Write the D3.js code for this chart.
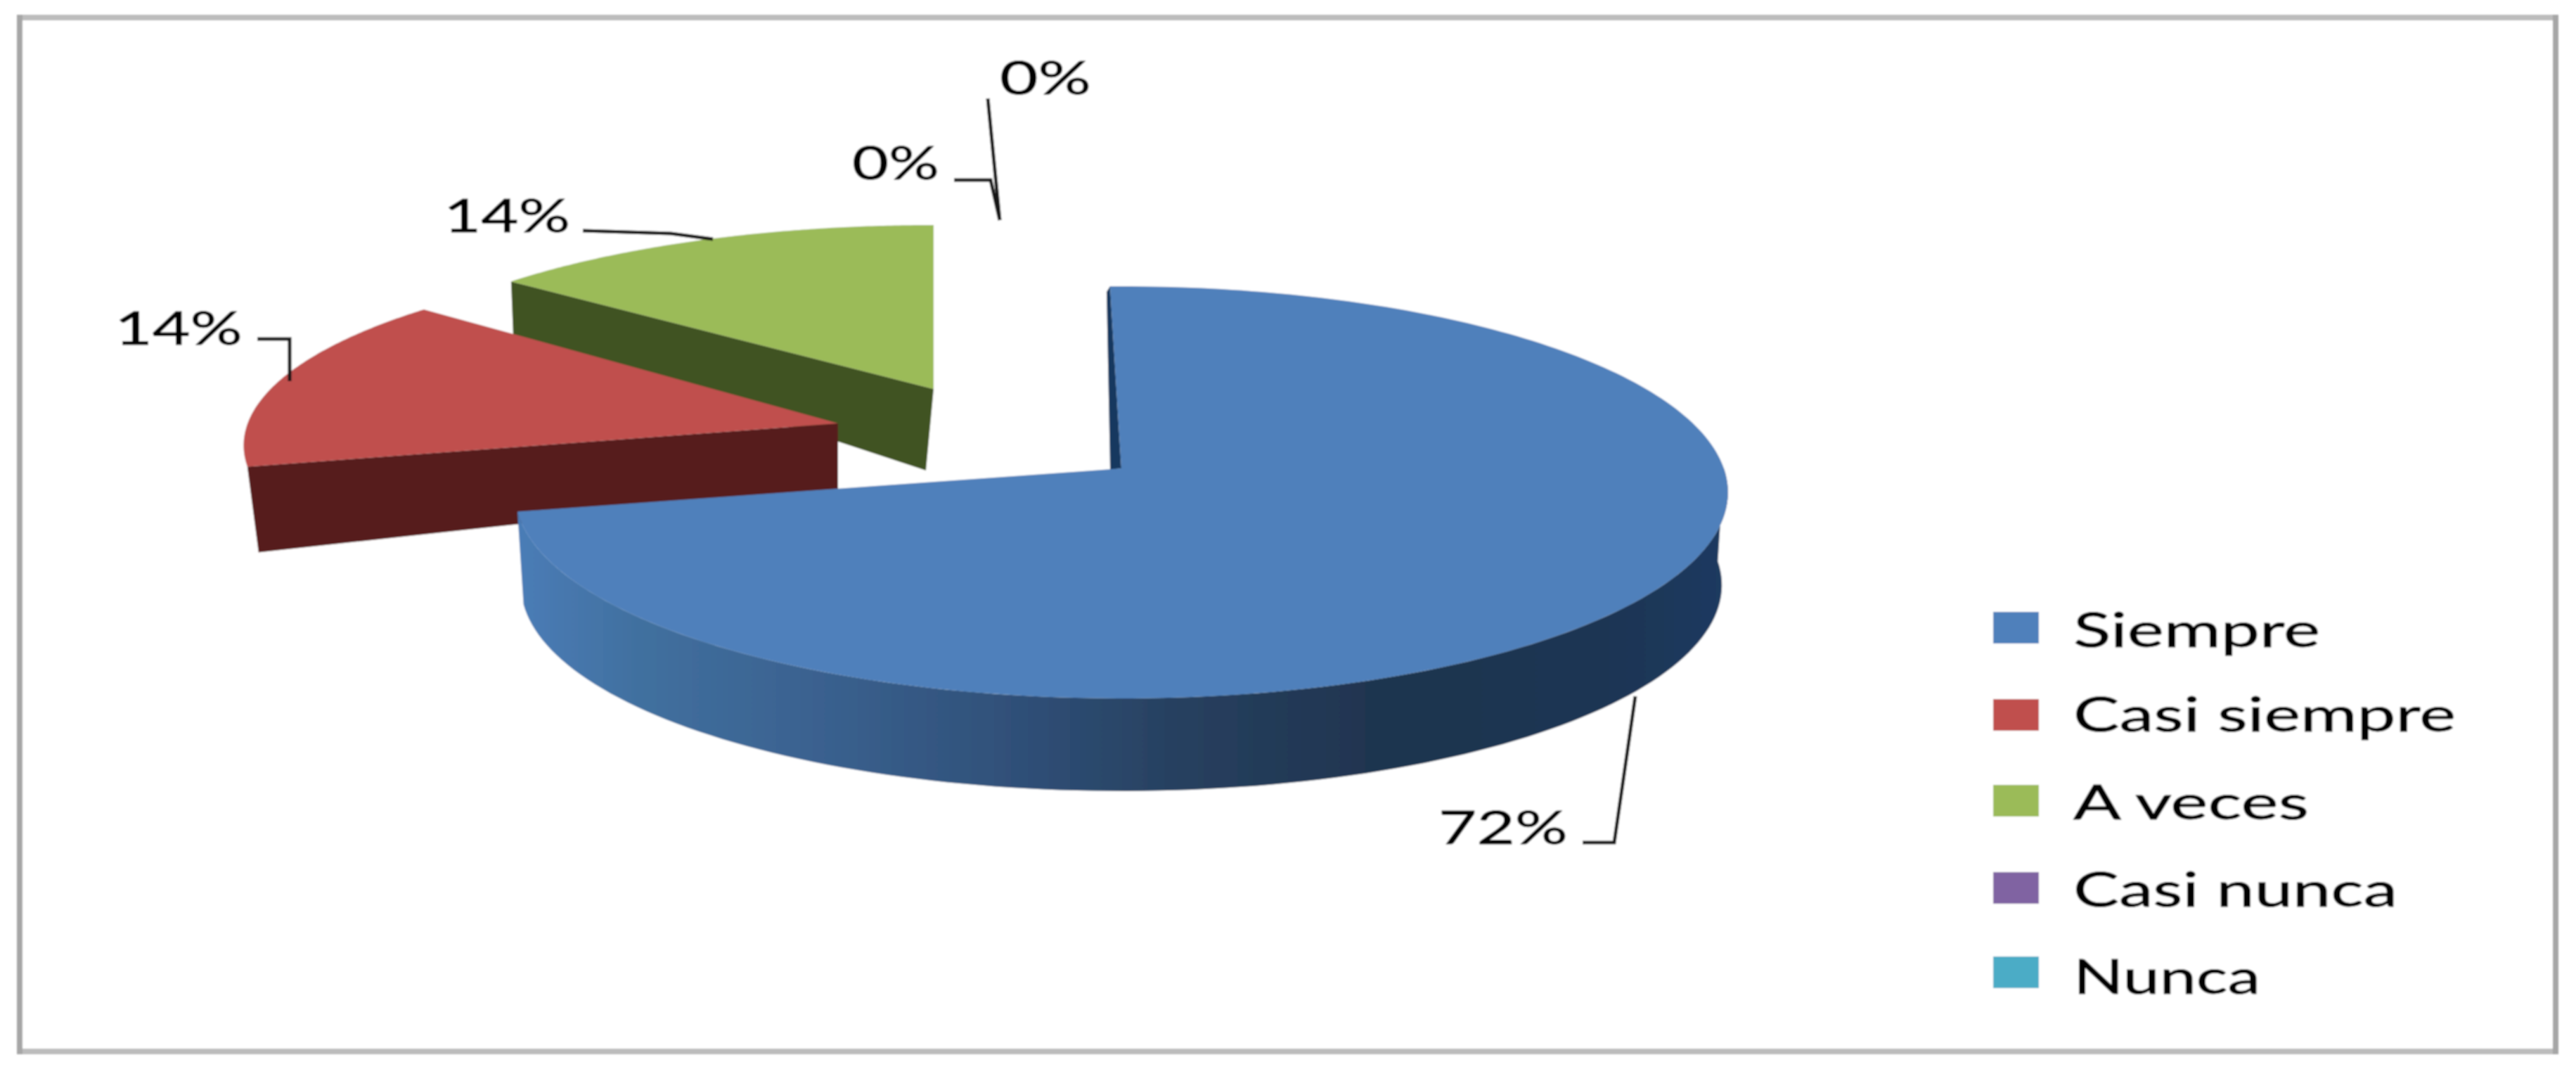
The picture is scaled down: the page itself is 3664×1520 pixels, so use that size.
<!DOCTYPE html>
<html><head><meta charset="utf-8">
<script src="https://cdn.jsdelivr.net/npm/d3@7/dist/d3.min.js"></script>
<style>html,body{margin:0;padding:0;background:#fff}svg{display:block}</style>
</head><body><svg id="c" width="3664" height="1520"></svg>
<script>
// ---- data ----
const categories = ["Siempre","Casi siempre","A veces","Casi nunca","Nunca"];
const values = [72,14,14,0,0];
const valueLabels = ["72%","14%","14%","0%","0%"];
const topColors = ["#4f80bb","#c0504d","#9bbb59","#8064a2","#4bacc6"];
const cutColors = ["#17375e","#561f1c","#3f5221","#403152","#205867"];

// ---- layout (not data) ----
const W=3664,H=1520;
const RX=857,RY=289,P=0.116;
const DEG=Math.PI/180;
const sliceLayout=[
 {ax:1595,ay:666,sx:1,sy:1,apexDepth:0,rimDepth:0,rimShift:0,apexShift:0,startExtra:0,endExtra:0},
 {ax:1192,ay:602,sx:.98,sy:.92,apexDepth:94,rimDepth:122,rimShift:16,apexShift:0,startExtra:-1,endExtra:2.6},
 {ax:1328,ay:553,sx:.97,sy:.9,apexDepth:116,rimDepth:76,rimShift:3,apexShift:-11,startExtra:0.7,endExtra:1.2}
];
const labelLayout=[
 {x:2046,y:1200,w:184,size:66,leader:[[2251,1198],[2296,1198],[2326,990]]},
 {x:163,y:490,w:182,size:66,leader:[[366,482],[412,482],[412,542]]},
 {x:631,y:330,w:180,size:66,leader:[[829,328],[954,332],[1014,340]]},
 {x:1212,y:255,w:124,size:66,leader:[[1357,256],[1409,256],[1422,313]]},
 {x:1422,y:134,w:130,size:66,leader:[[1405,140],[1422,313]]}
];
const legendLayout={swatchX:2835,swatchW:65,swatchH:45,textX:2949,size:68,
  swatchY:[870,994,1116,1240,1360],baseY:[920,1040,1165,1289,1413],textW:[351,544,335,461,266]};

const svg=d3.select("#c");
const defs=svg.append("defs");
const f=defs.append("filter").attr("id","soft").attr("x","-2%").attr("y","-2%").attr("width","104%").attr("height","104%");
f.append("feGaussianBlur").attr("stdDeviation",1.1);
const grad=defs.append("linearGradient").attr("id","wall").attr("gradientUnits","userSpaceOnUse")
  .attr("x1",740).attr("x2",2450).attr("y1",0).attr("y2",0);
[[0,"#4a7cb6"],[.1,"#41709f"],[.25,"#3a618f"],[.42,"#2f4f77"],[.55,"#27405f"],[.72,"#1f344f"],[.9,"#1f3553"],[1,"#1c3a60"]]
 .forEach(([o,c])=>grad.append("stop").attr("offset",o).attr("stop-color",c));

const g=svg.append("g").attr("filter","url(#soft)");
const line=d3.line();

// frame
g.append("rect").attr("x",28).attr("y",25).attr("width",3607).attr("height",1470)
 .attr("fill","#fff").attr("stroke","#bcbcbc").attr("stroke-width",8);
g.append("path").attr("d",line([[28,21],[28,1499]])).attr("stroke","#a6a6a6").attr("stroke-width",8);
g.append("path").attr("d",line([[3635,21],[3635,1499]])).attr("stroke","#a6a6a6").attr("stroke-width",8);

// pie angles
const pie=d3.pie().sort(null).value(d=>d).startAngle(-1.2*DEG).endAngle((360-1.2)*DEG);
const arcs=pie(values);

function rimPoint(t,s){
  const w=1+P*Math.cos(t);
  return [s.ax+s.sx*RX*Math.sin(t)/w, s.ay-s.sy*RY*Math.cos(t)/w];
}
const samples=(a,b,n=120)=>d3.range(n+1).map(i=>a+(b-a)*i/n);

// green then red: cut face + top
[2,1].forEach(i=>{
  const a=arcs[i],s=sliceLayout[i];
  const t0=a.startAngle+s.startExtra*DEG, t1=a.endAngle+s.endExtra*DEG;
  const p0=rimPoint(t0,s);
  const face=[p0,[s.ax,s.ay],[s.ax+s.apexShift,s.ay+s.apexDepth],[p0[0]+s.rimShift,p0[1]+s.rimDepth]];
  g.append("path").attr("d",line(face)+"Z").attr("fill",cutColors[i]);
  const rim=samples(t0,t1).map(t=>rimPoint(t,s));
  g.append("path").attr("d",line([[s.ax,s.ay],...rim])+"Z").attr("fill",topColors[i]);
});

// blue: wall, sliver, top
(function(){
  const a=arcs[0],s=sliceLayout[0];
  const DEPTH=132,BS=.99;
  const bottom=t=>{const w=1+P*Math.cos(t);return [s.ax+BS*RX*Math.sin(t)/w,s.ay+DEPTH-RY*Math.cos(t)/w];};
  const ts=samples(Math.PI/2,a.endAngle);
  const wall=[...ts.map(t=>rimPoint(t,s)),...ts.slice().reverse().map(bottom)];
  g.append("path").attr("d",line(wall)+"Z").attr("fill","url(#wall)");
  const p0=rimPoint(a.startAngle,s);
  g.append("path").attr("d",line([p0,[s.ax,s.ay],[s.ax-16,s.ay+2],[p0[0]-5,p0[1]+8]])+"Z").attr("fill",cutColors[0]);
  const rim=samples(a.startAngle,a.endAngle,240).map(t=>rimPoint(t,s));
  g.append("path").attr("d",line([[s.ax,s.ay],...rim])+"Z").attr("fill",topColors[0]);
})();

// value labels and leaders
const font="Lato, 'Open Sans', sans-serif";
valueLabels.forEach((t,i)=>{
  const l=labelLayout[i];
  g.append("path").attr("d",line(l.leader)).attr("fill","none").attr("stroke","#141414").attr("stroke-width",5);
  g.append("text").attr("x",l.x).attr("y",l.y).attr("font-family",font).attr("font-size",l.size)
   .attr("fill","#000").attr("stroke","#000").attr("stroke-width",0.8)
   .attr("textLength",l.w).attr("lengthAdjust","spacingAndGlyphs").text(t);
});

// legend
categories.forEach((c,i)=>{
  const L=legendLayout;
  g.append("rect").attr("x",L.swatchX).attr("y",L.swatchY[i]).attr("width",L.swatchW).attr("height",L.swatchH).attr("fill",topColors[i]);
  g.append("text").attr("x",L.textX).attr("y",L.baseY[i]).attr("font-family",font).attr("font-size",L.size)
   .attr("fill","#000").attr("stroke","#000").attr("stroke-width",0.8)
   .attr("textLength",L.textW[i]).attr("lengthAdjust","spacingAndGlyphs").text(c);
});
</script></body></html>
